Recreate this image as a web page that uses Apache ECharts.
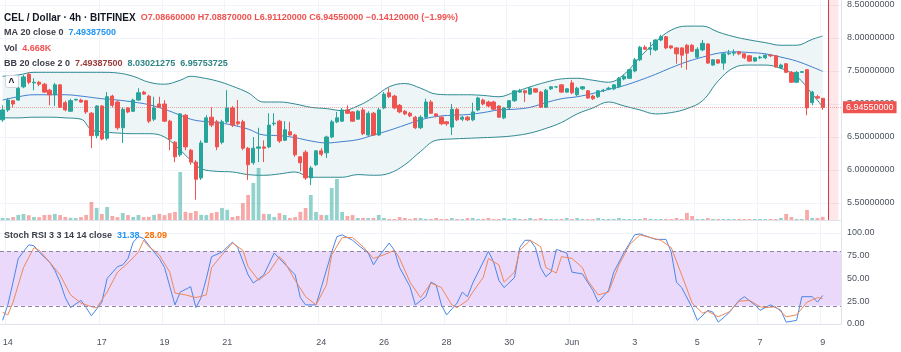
<!DOCTYPE html>
<html>
<head>
<meta charset="utf-8">
<script src="https://cdn.jsdelivr.net/npm/echarts@6/dist/echarts.min.js"></script>
<style>
  html, body { margin: 0; padding: 0; background: #fff; }
  #chart { width: 901px; height: 352px; }
</style>
</head>
<body>
<div id="chart"></div>
<script>
// CEL / Dollar, 4h candles, 13 May 20:00 -> 9 Jun 00:00
// [open, close, low, high]
const candles = [
  [6.76,6.91,6.73,6.98],[6.91,7.06,6.88,7.09],[7.05,7.00,6.95,7.06],[7.06,7.24,7.05,7.26],[7.26,7.41,7.24,7.44],
  [7.45,7.33,7.30,7.48],[7.32,7.33,7.21,7.39],[7.33,7.30,7.27,7.35],[7.30,7.18,7.17,7.32],[7.21,7.14,6.98,7.23],
  [7.14,7.29,6.97,7.32],[7.29,6.95,6.94,7.30],[7.02,6.91,6.89,7.05],[6.89,7.05,6.88,7.08],[7.06,7.07,7.05,7.08],
  [7.06,7.03,7.02,7.08],[7.05,6.88,6.85,7.06],[6.86,6.52,6.33,6.88],[6.52,6.97,6.48,6.98],[6.97,6.47,6.45,6.98],
  [6.48,7.11,6.45,7.18],[7.12,6.98,6.95,7.14],[7.03,6.64,6.61,7.06],[6.64,6.92,6.41,6.95],[6.94,6.88,6.86,6.95],
  [6.89,7.06,6.88,7.08],[7.06,7.17,7.05,7.24],[7.18,7.15,7.14,7.20],[7.12,6.74,6.71,7.14],[6.77,6.94,6.74,7.11],
  [7.00,6.95,6.94,7.11],[7.00,6.74,6.73,7.06],[6.74,6.47,6.30,6.76],[6.42,6.20,6.12,6.44],[6.23,6.85,6.20,6.86],
  [6.83,6.35,6.30,6.85],[6.30,6.12,6.08,6.32],[6.12,5.86,5.55,6.15],[5.88,6.41,5.85,6.45],[6.42,6.79,6.41,6.83],
  [6.80,6.68,6.65,6.95],[6.73,6.35,6.30,6.76],[6.42,6.73,6.39,6.76],[6.73,6.94,6.71,7.21],[6.94,6.68,6.65,6.97],
  [6.73,6.70,6.67,7.06],[6.73,6.33,6.30,6.76],[6.33,6.08,5.85,6.35],[6.11,6.33,6.08,6.50],[6.33,6.35,6.12,6.64],
  [6.35,6.33,6.12,6.45],[6.35,6.68,6.33,6.86],[6.70,6.71,6.67,6.86],[6.74,6.44,6.41,6.76],[6.45,6.61,6.44,6.74],
  [6.58,6.53,6.52,6.73],[6.53,6.23,6.20,6.55],[6.20,6.11,5.98,6.21],[6.27,5.88,5.85,6.30],[5.88,6.03,5.77,6.06],
  [6.08,6.29,6.06,6.30],[6.29,6.24,6.21,6.33],[6.26,6.50,6.18,6.52],[6.50,6.73,6.48,6.76],[6.73,6.79,6.71,6.88],
  [6.74,6.91,6.73,6.94],[6.91,6.86,6.85,6.98],[6.88,6.74,6.73,6.89],[6.77,6.89,6.76,6.91],[6.91,6.55,6.53,6.94],
  [6.53,6.86,6.52,6.89],[6.86,6.53,6.52,6.88],[6.53,6.91,6.52,6.94],[6.94,7.15,6.92,7.18],[7.17,7.11,7.09,7.24],
  [7.12,6.94,6.92,7.14],[6.98,6.88,6.86,7.00],[6.89,6.85,6.83,6.91],[6.86,6.82,6.80,6.88],[6.80,6.64,6.62,6.82],
  [6.64,6.80,6.62,6.83],[6.80,7.03,6.79,7.08],[7.03,6.86,6.85,7.06],[6.85,6.82,6.80,6.86],[6.80,6.70,6.68,6.82],
  [6.73,6.70,6.67,6.74],[6.65,6.92,6.53,7.00],[6.92,6.76,6.74,6.94],[6.77,6.80,6.74,6.82],[6.80,6.76,6.74,6.82],
  [6.76,6.88,6.74,7.02],[6.91,7.09,6.89,7.11],[7.06,7.00,6.98,7.08],[7.03,6.97,6.95,7.05],[7.03,6.92,6.91,7.05],
  [6.97,6.80,6.79,6.98],[6.79,6.94,6.77,6.95],[6.94,7.05,6.92,7.06],[7.05,7.20,7.03,7.21],[7.18,7.20,7.17,7.23],
  [7.20,7.17,7.03,7.21],[7.15,7.24,7.14,7.26],[7.23,7.18,7.17,7.24],[7.18,6.95,6.94,7.20],[6.95,7.21,6.94,7.23],
  [7.23,7.26,7.21,7.27],[7.26,7.26,7.24,7.27],[7.29,7.18,7.17,7.30],[7.18,7.23,7.17,7.24],[7.32,7.17,7.15,7.36],
  [7.14,7.24,7.12,7.26],[7.23,7.26,7.21,7.27],[7.20,7.09,7.08,7.21],[7.12,7.08,7.06,7.14],[7.11,7.20,7.09,7.21],
  [7.20,7.21,7.18,7.23],[7.23,7.24,7.21,7.26],[7.23,7.29,7.21,7.30],[7.26,7.39,7.24,7.41],[7.38,7.42,7.36,7.44],
  [7.39,7.52,7.38,7.53],[7.50,7.67,7.48,7.70],[7.67,7.86,7.65,7.88],[7.86,7.83,7.82,7.89],[7.83,7.85,7.74,7.94],
  [7.82,7.97,7.80,7.98],[7.97,8.02,7.95,8.05],[8.02,7.85,7.83,8.03],[7.88,7.85,7.83,7.89],[7.85,7.76,7.61,7.86],
  [7.85,7.74,7.55,7.86],[7.89,7.77,7.52,7.91],[7.89,7.80,7.79,7.91],[7.71,7.83,7.70,7.86],[7.82,7.92,7.80,7.97],
  [7.91,7.62,7.61,7.92],[7.59,7.67,7.58,7.68],[7.67,7.62,7.61,7.68],[7.62,7.76,7.52,7.77],[7.76,7.77,7.74,7.82],
  [7.77,7.78,7.73,7.83],[7.79,7.76,7.74,7.80],[7.76,7.70,7.68,7.77],[7.73,7.65,7.64,7.74],[7.65,7.70,7.64,7.71],
  [7.70,7.71,7.68,7.73],[7.70,7.74,7.68,7.76],[7.74,7.73,7.71,7.76],[7.73,7.56,7.55,7.74],[7.55,7.59,7.53,7.61],
  [7.61,7.48,7.47,7.62],[7.48,7.33,7.32,7.50],[7.33,7.48,7.32,7.50],[7.48,7.49,7.47,7.50],[7.52,6.94,6.83,7.53],
  [7.02,7.18,6.98,7.20],[7.11,7.09,7.08,7.14],[7.0866,6.9455,6.9112,7.0887]
];

// volume in thousands
const volumes = [
  3.1,2.8,4.4,7.6,9.0,7.2,4.5,4.2,7.5,7.8, 9.1,7.4,4.6,3.2,2.9,4.4,7.6,27.0,18.2,9.1,
  19.6,6.1,4.3,10.5,7.4,4.6,7.5,4.4,4.7,7.6, 9.2,7.3,10.4,12.1,72.0,12.2,10.6,13.4,7.7,7.4,
  10.4,12.0,18.1,15.2,4.5,6.1,25.4,37.6,55.5,78.0, 9.2,8.9,4.6,10.3,7.5,3.1,4.4,12.2,18.0,37.5,
  12.1,7.6,7.4,48.1,61.5,12.0,6.1,7.4,3.0,3.2, 2.9,3.1,7.6,3.0,1.6,1.5,4.4,3.1,1.4,3.0,
  2.8,1.6,1.5,3.1,1.4,1.6,3.0,1.5,1.4,2.9, 3.1,1.5,1.6,3.0,1.4,1.5,2.9,1.6,3.0,1.5,
  1.4,3.1,1.5,2.9,1.6,1.5,1.4,1.6,3.0,1.5, 2.9,1.6,1.4,1.5,3.0,1.6,1.5,1.4,3.1,1.5,
  1.6,1.4,1.5,3.0,1.6,1.4,1.5,1.6,1.4,3.0, 1.5,10.6,6.0,1.4,1.6,2.9,1.5,1.4,1.6,1.5,
  1.4,1.6,1.5,1.4,1.6,1.5,1.4,1.6,1.5,3.0, 9.1,4.5,1.6,1.4,15.2,3.0,2.9,4.668
];

// Bollinger bands (20, 2) read at these candle indices
const bbIdx = [0,3,6,9,12,15,17,19,22,25,28,31,34,36,38,41,44,47,50,53,56,59,62,65,68,71,74,77,80,83,
  86,89,92,95,98,101,104,107,110,113,116,119,122,125,128,131,134,137,140,143,146,149,152,155,157];
const bbUpper = [7.42,7.44,7.48,7.48,7.48,7.48,7.48,7.48,7.47,7.42,7.33,7.30,7.36,7.42,7.40,7.35,7.27,7.17,7.03,7.03,
  7.00,6.95,6.93,6.90,6.97,7.10,7.26,7.31,7.24,7.15,7.14,7.14,7.13,7.11,7.18,7.26,7.33,7.38,7.39,7.36,
  7.33,7.45,7.71,7.94,8.12,8.18,8.18,8.09,8.02,7.97,7.93,7.89,7.89,7.98,8.03];
const bbBasis = [7.06,7.11,7.14,7.14,7.14,7.12,7.10,7.08,7.06,7.03,6.99,6.92,6.83,6.77,6.74,6.72,6.68,6.62,6.53,6.52,
  6.49,6.44,6.41,6.43,6.46,6.53,6.60,6.68,6.76,6.81,6.83,6.84,6.87,6.91,6.92,6.95,7.02,7.08,7.11,7.16,
  7.22,7.28,7.36,7.45,7.55,7.64,7.71,7.77,7.79,7.78,7.76,7.71,7.65,7.56,7.494];
const bbLower = [6.79,6.79,6.80,6.80,6.79,6.77,6.61,6.58,6.56,6.55,6.55,6.50,6.30,6.15,6.02,5.98,5.97,5.93,5.92,5.94,
  5.97,5.89,5.89,5.89,5.93,5.92,5.95,6.08,6.28,6.45,6.47,6.48,6.49,6.50,6.52,6.56,6.63,6.72,6.85,6.94,
  7.03,6.97,6.91,6.85,6.87,6.93,7.05,7.35,7.55,7.59,7.59,7.54,7.42,7.15,6.958];

// Stoch RSI 3 3 14 14: [candle index, value]
const stochK = [[0,4],[1,21],[2,46],[3,72],[5,87],[6,86],[7,79],[9,68],[10,59],[11,46],[12,29],[13,18],[15,26],[16,18],
  [17,9],[19,24],[20,50],[22,63],[23,65],[24,72],[25,90],[26,96],[27,94],[29,79],[30,72],[31,62],[33,21],[34,35],[36,41],
  [37,18],[38,29],[39,50],[40,74],[42,79],[44,90],[45,84],[47,54],[48,45],[50,54],[52,78],[53,72],[56,54],[57,29],[58,21],
  [60,21],[61,40],[63,79],[64,96],[65,98],[67,92],[68,87],[70,78],[71,65],[72,74],[74,89],[75,81],[76,62],[78,41],[79,21],
  [81,30],[82,46],[83,43],[84,21],[85,10],[87,23],[88,35],[89,30],[90,45],[92,68],[93,80],[94,68],[95,48],[96,40],[98,51],
  [99,84],[100,92],[101,92],[102,84],[103,62],[104,52],[105,57],[106,82],[108,78],[109,57],[111,55],[113,37],[114,24],
  [116,37],[117,57],[119,79],[121,98],[122,99],[124,95],[125,93],[127,93],[128,79],[129,46],[130,40],[132,18],[133,4],
  [135,15],[136,13],[137,2],[139,12],[141,26],[142,30],[144,21],[145,15],[147,21],[149,15],[150,2],[152,4],[153,30],
  [155,30],[156,24],[157,31.38]];
const stochD = [[0,13],[1,10],[2,24],[4,62],[6,84],[7,81],[9,68],[11,54],[13,32],[15,23],[17,19],[18,18],[20,35],[22,57],
  [24,67],[26,79],[27,92],[28,85],[30,76],[32,57],[33,34],[35,32],[37,29],[39,32],[40,62],[42,76],[44,89],[46,81],[47,63],
  [49,48],[51,57],[53,74],[54,68],[56,48],[58,30],[60,21],[62,43],[63,76],[65,95],[67,95],[69,85],[71,72],[73,76],[75,81],
  [76,72],[78,46],[80,29],[82,45],[84,40],[86,21],[87,18],[89,26],[90,35],[92,51],[93,72],[95,65],[96,46],[98,57],[99,81],
  [101,92],[103,85],[104,62],[106,56],[107,74],[109,72],[111,62],[112,48],[114,32],[116,35],[118,65],[120,87],[122,98],
  [124,95],[126,92],[128,84],[130,54],[132,23],[134,12],[135,14],[137,8],[139,13],[141,25],[143,26],[145,19],[146,18],
  [148,19],[150,8],[152,10],[154,24],[156,29],[157,28.09]];

// x axis day labels
const dayLabels = {'05-14':'14','05-17':'17','05-19':'19','05-21':'21','05-24':'24','05-26':'26','05-28':'28',
  '05-30':'30','06-01':'Jun','06-03':'3','06-05':'5','06-07':'7','06-09':'9'};

const slotCount = candles.length + 3;   // a few empty slots on the right
const startTime = Date.UTC(2021, 4, 13, 20);
const pad = (v) => String(v).padStart(2, '0');
const categories = [];
for (let i = 0; i < slotCount; i++) {
  const d = new Date(startTime + i * 4 * 3600 * 1000);
  categories.push(pad(d.getUTCMonth() + 1) + '-' + pad(d.getUTCDate()) + ' ' + pad(d.getUTCHours()));
}
const isDayTick = (idx, val) => val.slice(6) === '00' && dayLabels[val.slice(0, 5)] !== undefined;

const UP = '#26a69a', DOWN = '#ef5350';
const font = '"Liberation Sans", Arial, sans-serif';
const last = candles[candles.length - 1];
const paneFloor = 5.2424;   // price at the bottom edge of the price pane

const chart = echarts.init(document.getElementById('chart'));

const volData = volumes.map((v, i) => ({
  value: v,
  itemStyle: { color: candles[i][1] >= candles[i][0] ? 'rgba(38,166,154,0.5)' : 'rgba(239,83,80,0.5)' }
}));

const lbl = { fontFamily: font, fontSize: 9, color: '#4c525e' };
const txt = (size, color) => ({ fontFamily: font, fontSize: size, color: color });

const option = {
  animation: false,
  backgroundColor: '#fff',
  title: [
    { left: 4, top: 9, padding: 0, text: '{a|CEL / Dollar · 4h · BITFINEX} {r|O7.08660000 H7.08870000 L6.91120000 C6.94550000 −0.14120000 (−1.99%)}',
      textStyle: { rich: { a: txt(10, '#131722'), r: txt(9, DOWN) } } },
    { left: 4, top: 24, padding: 0, text: '{a|MA 20 close 0} {b|7.49387500}',
      textStyle: { rich: { a: txt(9, '#3c3f4a'), b: txt(9, '#2196f3') } } },
    { left: 4, top: 40, padding: 0, text: '{a|Vol} {r|4.668K}',
      textStyle: { rich: { a: txt(9, '#3c3f4a'), r: txt(9, DOWN) } } },
    { left: 4, top: 55, padding: 0, text: '{a|BB 20 close 2 0} {m|7.49387500} {t|8.03021275} {t|6.95753725}',
      textStyle: { rich: { a: txt(9, '#3c3f4a'), m: txt(9, '#9b3b3b'), t: txt(9, '#2f8383') } } },
    { left: 4, top: 227, padding: 0, text: '{a|Stoch RSI 3 3 14 14 close} {k|31.38} {d|28.09}',
      textStyle: { rich: { a: txt(9, '#3c3f4a'), k: txt(9, '#2196f3'), d: txt(9, '#ff6d00') } } }
  ],
  graphic: [
    { type: 'rect', left: 5, top: 75, z: 100, shape: { width: 13, height: 12, r: 2 }, style: { fill: '#fff', stroke: '#d1d4dc' } },
    { type: 'text', left: 8.5, top: 78, z: 101, style: { text: '^', fill: '#131722', font: 'bold 10px ' + font } }
  ],
  grid: [
    { left: 0, right: 60, top: -28, height: 264, outerBoundsMode: 'none' },
    { left: 0, right: 60, top: 150, height: 70, outerBoundsMode: 'none' },
    { left: 0, right: 60, top: 233, height: 91, outerBoundsMode: 'none' }
  ],
  xAxis: [
    { gridIndex: 0, type: 'category', data: categories, axisLine: { show: false }, axisTick: { show: false },
      axisLabel: { show: false }, splitLine: { show: true, interval: isDayTick, lineStyle: { color: '#f0f3fa' } } },
    { gridIndex: 1, type: 'category', data: categories, axisLine: { show: true, lineStyle: { color: '#e0e3eb' } },
      axisTick: { show: false }, axisLabel: { show: false }, splitLine: { show: false } },
    { gridIndex: 2, type: 'category', data: categories, offset: 9,
      axisLine: { show: true, lineStyle: { color: '#e0e3eb' } }, axisTick: { show: false },
      axisLabel: Object.assign({ interval: isDayTick, margin: 5, hideOverlap: false,
        formatter: (v) => dayLabels[v.slice(0, 5)] }, lbl),
      splitLine: { show: true, interval: isDayTick, lineStyle: { color: '#f0f3fa' } } }
  ],
  yAxis: [
    { gridIndex: 0, type: 'value', position: 'right', min: 5, max: 9, interval: 0.5,
      axisLine: { show: true, lineStyle: { color: '#e0e3eb' } }, axisTick: { show: false },
      axisLabel: Object.assign({ showMinLabel: false, showMaxLabel: false, margin: 6,
        formatter: (v) => v.toFixed(8) }, lbl),
      splitLine: { lineStyle: { color: ['rgba(0,0,0,0)', '#f0f3fa', '#f0f3fa', '#f0f3fa', '#f0f3fa', '#f0f3fa', '#f0f3fa', '#f0f3fa', 'rgba(0,0,0,0)'] } } },
    { gridIndex: 1, type: 'value', min: 0, max: 105, show: false },
    { gridIndex: 2, type: 'value', position: 'right', min: 0, max: 100, interval: 25,
      axisLine: { show: true, lineStyle: { color: '#e0e3eb' } }, axisTick: { show: false },
      axisLabel: Object.assign({ margin: 6, formatter: (v) => v.toFixed(2) }, lbl),
      splitLine: { lineStyle: { color: '#f0f3fa' } } }
  ],
  series: [
    { name: 'BB lower', type: 'line', xAxisIndex: 0, yAxisIndex: 0, stack: 'bb', symbol: 'none', smooth: 0.4, z: 1,
      data: bbIdx.map((x, k) => [x, bbLower[k]]), lineStyle: { color: '#2f8a93', width: 1 } },
    { name: 'BB band', type: 'line', xAxisIndex: 0, yAxisIndex: 0, stack: 'bb', symbol: 'none', smooth: 0.4, z: 1,
      data: bbIdx.map((x, k) => [x, +(bbUpper[k] - bbLower[k]).toFixed(3)]),
      lineStyle: { color: '#2f8a93', width: 1 }, areaStyle: { color: '#edf5f7', opacity: 1 } },
    { name: 'Volume', type: 'bar', xAxisIndex: 1, yAxisIndex: 1, data: volData, barWidth: '72%', z: 2 },
    { name: 'MA 20', type: 'line', xAxisIndex: 0, yAxisIndex: 0, symbol: 'none', smooth: 0.4, z: 3,
      data: bbIdx.map((x, k) => [x, bbBasis[k]]), lineStyle: { color: '#3f7fcf', width: 1 } },
    { name: 'CEL', type: 'candlestick', xAxisIndex: 0, yAxisIndex: 0, data: candles, barWidth: '72%', z: 4,
      itemStyle: { color: UP, color0: DOWN, borderColor: UP, borderColor0: DOWN, borderWidth: 1 },
      markLine: { silent: true, symbol: 'none', animation: false, data: [
        { yAxis: last[1], lineStyle: { color: 'rgba(239,83,80,0.5)', type: 'dotted', width: 1 },
          label: { show: true, position: 'end', distance: 2, formatter: last[1].toFixed(8), backgroundColor: DOWN,
            color: '#fff', padding: [2, 3, 1, 3], fontFamily: font, fontSize: 9 } },
        [ { xAxis: categories[candles.length], yAxis: paneFloor, lineStyle: { color: '#d63a45', type: 'solid', width: 1 }, label: { show: false } },
          { xAxis: categories[candles.length], yAxis: 9 } ]
      ] },
      markArea: { silent: true, itemStyle: { color: 'rgba(242,54,69,0.12)' }, data: [
        [ { xAxis: categories[candles.length], yAxis: paneFloor }, { xAxis: categories[slotCount - 1], yAxis: 9 } ]
      ] } },
    { name: 'band', type: 'line', xAxisIndex: 2, yAxisIndex: 2, data: [], z: 1,
      markArea: { silent: true, itemStyle: { color: '#ead9fb' }, data: [[{ yAxis: 20 }, { yAxis: 80 }]] },
      markLine: { silent: true, symbol: 'none', label: { show: false },
        lineStyle: { color: '#8f86a3', type: [4, 3], width: 1 }, data: [{ yAxis: 80 }, { yAxis: 20 }] } },
    { name: 'K', type: 'line', xAxisIndex: 2, yAxisIndex: 2, symbol: 'none', z: 3, data: stochK,
      lineStyle: { color: '#4a86e8', width: 1 } },
    { name: 'D', type: 'line', xAxisIndex: 2, yAxisIndex: 2, symbol: 'none', z: 3, data: stochD,
      lineStyle: { color: '#f0875a', width: 1 } }
  ]
};

chart.setOption(option);
</script>
</body>
</html>
